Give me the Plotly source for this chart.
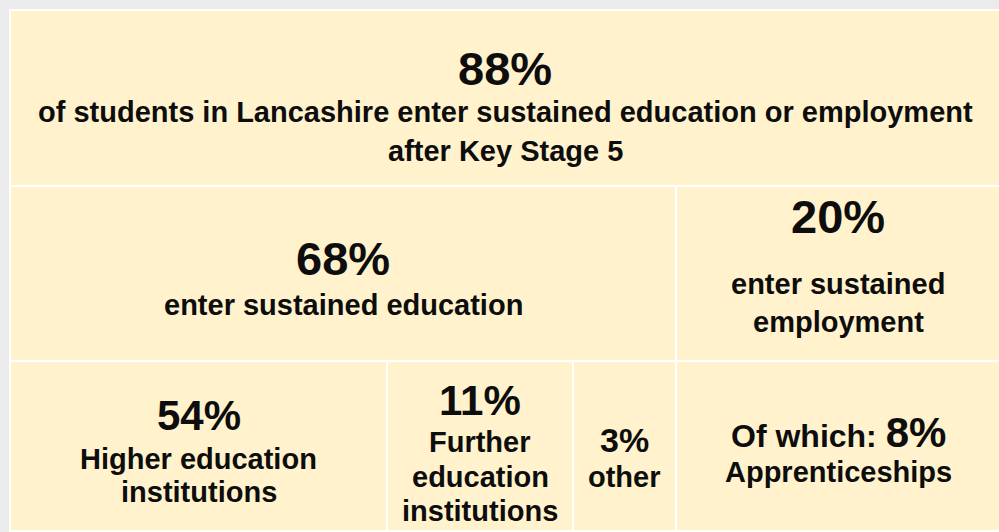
import plotly.graph_objects as go

# ---- data ----
headline_pct = ["88%", "68%", "20%", "54%", "11%", "3%", "8%"]
headline_text = [
    ["of students in Lancashire enter sustained education or employment", "after Key Stage 5"],
    ["enter sustained education"],
    ["enter sustained", "employment"],
    ["Higher education", "institutions"],
    ["Further", "education", "institutions"],
    ["other"],
    ["Apprenticeships"],
]
prefix_text = ["", "", "", "", "", "", "Of which: "]

# ---- layout (pixel geometry) ----
W, H = 999, 532
BG = "#EBEBEB"
CREAM = "#FFF2CC"
TXT = "#0D0D0D"
FONT = "Liberation Sans, Arial, sans-serif"

# cells: x0, x1, y0, y1
cells = [
    (11, 999, 11, 185),
    (11, 675, 187, 360),
    (677, 999, 187, 360),
    (11, 386, 362, 530),
    (388, 572, 362, 530),
    (574, 675, 362, 530),
    (677, 999, 362, 530),
]
# y centre of number line, then text lines
num_y = [68, 258, 216, 415, 400, 440, 432]
line_y = [[112, 151], [305], [284, 322], [459, 492], [442, 477, 511], [477], [472]]
num_size = [47, 47, 47, 42, 42, 34, 42]
txt_size = [29, 29, 29, 29, 29, 29, 29]

fig = go.Figure()
fig.add_trace(go.Scatter(x=[0, W], y=[0, H], mode="markers", marker=dict(opacity=0), hoverinfo="skip", showlegend=False))

shapes = [dict(type="rect", xref="x", yref="y", x0=9, x1=W, y0=9, y1=H,
               fillcolor="white", line=dict(width=0), layer="below")]
for (x0, x1, y0, y1) in cells:
    shapes.append(dict(type="rect", xref="x", yref="y", x0=x0, x1=x1, y0=y0, y1=y1,
                       fillcolor=CREAM, line=dict(width=0), layer="below"))

annotations = []
for i, (x0, x1, y0, y1) in enumerate(cells):
    cx = (x0 + x1) / 2
    if prefix_text[i]:
        t = f"<span style='font-size:32px'>{prefix_text[i]}</span>{headline_pct[i]}"
    else:
        t = headline_pct[i]
    annotations.append(dict(x=cx, y=num_y[i], xref="x", yref="y", text=t, showarrow=False,
                            xanchor="center", yanchor="middle",
                            font=dict(family=FONT, size=num_size[i], color=TXT, weight="bold")))
    for ln, yy in zip(headline_text[i], line_y[i]):
        annotations.append(dict(x=cx, y=yy, xref="x", yref="y", text=ln, showarrow=False,
                                xanchor="center", yanchor="middle",
                                font=dict(family=FONT, size=txt_size[i], color=TXT, weight="bold")))

fig.update_layout(
    width=W, height=H, margin=dict(l=0, r=0, t=0, b=0),
    paper_bgcolor=BG, plot_bgcolor=BG,
    xaxis=dict(range=[0, W], visible=False, fixedrange=True),
    yaxis=dict(range=[H, 0], visible=False, fixedrange=True),
    shapes=shapes, annotations=annotations, showlegend=False,
)
fig.write_html("out.html", config={"displayModeBar": False},
               post_script="document.body.style.margin='0';document.body.style.overflow='hidden';")
